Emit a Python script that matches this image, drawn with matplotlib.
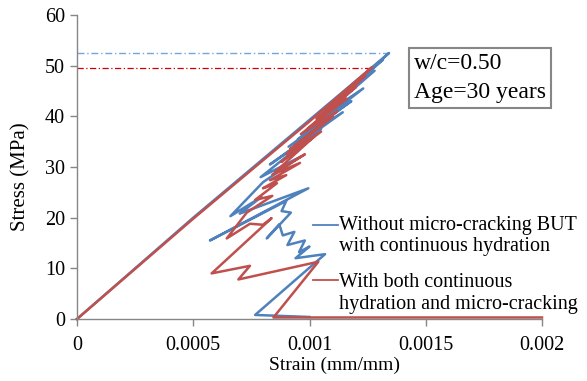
import numpy as np
import matplotlib
matplotlib.use("Agg")
import matplotlib.pyplot as plt

plt.rcParams['font.family'] = ['Liberation Serif', 'DejaVu Serif']

# strain in 1e-3 mm/mm, stress in MPa
blue_strain = [0, 0.5, 1.0, 1.342, 1.19, 1.316, 1.12, 1.28, 1.053, 1.231, 0.95, 1.18,
               0.91, 1.143, 0.83, 1.05, 0.79, 0.96, 0.80, 0.66, 0.794, 0.70, 0.995,
               0.572, 0.90, 0.88, 0.92, 0.816, 0.87, 0.885, 0.935, 0.905, 0.98,
               0.955, 1.00, 0.94, 1.067, 0.766, 1.00]
blue_stress = [0, 20.0, 39.3, 52.5, 46.0, 51.2, 43.5, 49.0, 40.0, 45.5, 35.5, 43.0,
               34.0, 40.8, 30.5, 37.5, 28.0, 32.0, 27.0, 20.3, 24.1, 20.8, 25.8,
               15.5, 23.3, 21.3, 21.0, 15.9, 18.7, 16.5, 17.2, 14.6, 15.5,
               13.2, 14.3, 12.0, 12.8, 0.8, 0.4]

red_strain = [0, 0.5, 1.0, 1.269, 1.10, 1.24, 1.03, 1.20, 0.99, 1.16, 0.963, 1.12,
              0.917, 1.10, 0.90, 1.05, 0.878, 1.02, 0.852, 0.98, 0.84, 0.959, 0.83,
              0.90, 0.80, 0.86, 0.766, 0.84, 0.73, 0.644, 0.744, 0.80, 0.837,
              0.579, 0.744, 0.694, 1.038, 0.845, 2.0]
red_stress = [0, 19.8, 39.0, 49.7, 42.5, 48.0, 39.5, 45.8, 37.5, 43.5, 36.5, 41.0,
              33.5, 40.0, 32.5, 37.0, 31.0, 36.0, 29.0, 32.5, 28.5, 30.8, 27.4,
              28.4, 25.8, 26.8, 23.5, 24.3, 21.0, 15.9, 18.8, 18.6, 19.9,
              9.0, 10.5, 7.8, 11.3, 0.3, 0.3]

blue_peak = 52.5
red_peak = 49.6

xticks = [0, 0.0005, 0.001, 0.0015, 0.002]
xtick_labels = ["0", "0.0005", "0.001", "0.0015", "0.002"]
yticks = [0, 10, 20, 30, 40, 50, 60]

BLUE = "#4f81bd"
RED = "#c0504d"
GRAY = "#868686"

fig = plt.figure(figsize=(5.87, 3.81), dpi=100)
ax = fig.add_axes([77 / 587, 1 - 319 / 381, 465 / 587, 304 / 381])

bs = np.array(blue_strain) * 1e-3
rs = np.array(red_strain) * 1e-3

ax.plot([0, bs.max()], [blue_peak, blue_peak], color="#6fa8dc", lw=1, ls=(0, (5, 2, 1, 2)))
ax.plot([0, rs[3]], [red_peak, red_peak], color="#d00000", lw=0.9, ls=(0, (5, 2, 1, 2)))

ax.plot(bs, blue_stress, color=BLUE, lw=1.8, solid_joinstyle="round", clip_on=False)
ax.plot(rs, red_stress, color=RED, lw=1.8, solid_joinstyle="round", clip_on=False)

# labels with short leader lines
ax.plot([1.015e-3, 1.123e-3], [18.55, 18.55], color=BLUE, lw=1.3)
ax.plot([1.015e-3, 1.123e-3], [7.7, 7.7], color=RED, lw=1.3)
ax.text(1.128e-3, 16.4, "Without micro-cracking BUT\nwith continuous hydration",
        fontsize=14.5, va="center", ha="left", linespacing=1.2)
ax.text(1.128e-3, 5.0, "With both continuous\nhydration and micro-cracking",
        fontsize=14.5, va="center", ha="left", linespacing=1.2)

ax.set_xlim(0, 0.002)
ax.set_ylim(0, 60)
ax.set_xticks(xticks)
ax.set_xticklabels(xtick_labels)
ax.set_yticks(yticks)
ax.tick_params(labelsize=14.5, color=GRAY, length=5, width=1, direction="out")
ax.tick_params(axis="x", pad=7)
for side in ["top", "right"]:
    ax.spines[side].set_visible(False)
for side in ["left", "bottom"]:
    ax.spines[side].set_color(GRAY)
    ax.spines[side].set_linewidth(1)

ax.set_xlabel("Strain (mm/mm)", fontsize=14)
ax.set_ylabel("Stress (MPa)", fontsize=15)
ax.xaxis.set_label_coords(0.553, -0.125)
ax.yaxis.set_label_coords(-0.101, 0.467)

fig.text(414 / 587, 1 - 78 / 381, "w/c=0.50\nAge=30 years", fontsize=17,
         va="center", ha="left", linespacing=1.45,
         bbox=dict(boxstyle="square,pad=0.22", fc="white", ec=GRAY, lw=1.5))

fig.savefig("out.png", dpi=100)
